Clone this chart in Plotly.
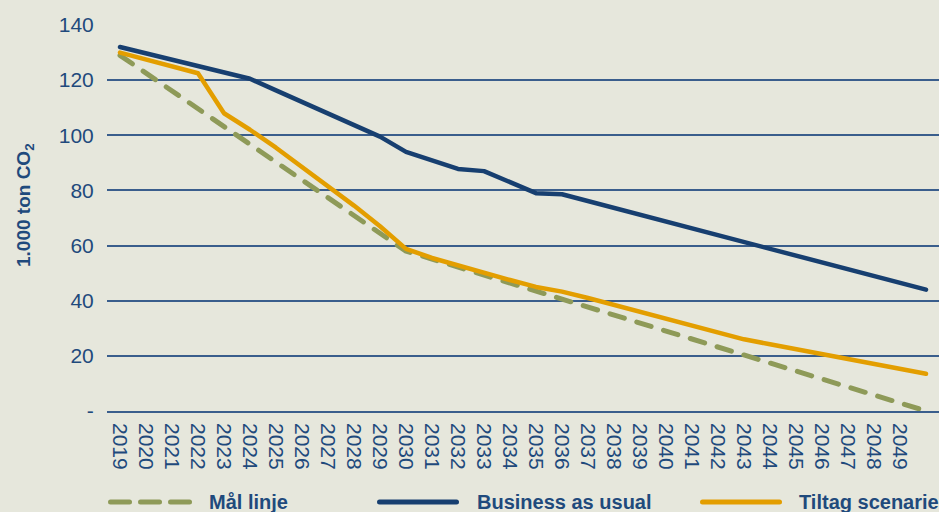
import plotly.graph_objects as go

years = [str(y) for y in range(2019, 2051)]

maal_linje = [129.0, 122.5, 116.0, 109.6, 103.2, 96.7, 90.3, 83.8, 77.4, 70.9,
              64.5, 58.0, 55.1, 52.2, 49.3, 46.4, 43.5, 40.6, 37.7, 34.8,
              31.9, 29.0, 26.1, 23.2, 20.3, 17.4, 14.5, 11.6, 8.7, 5.8, 2.9, 0.0]

business_as_usual = [132.0, 129.7, 127.4, 125.1, 122.8, 120.5, 116.3, 112.2, 108.0, 103.8,
                     99.5, 94.0, 90.7, 87.8, 87.0, 83.0, 79.0, 78.6, 76.1, 73.6,
                     71.2, 68.7, 66.2, 63.8, 61.3, 58.8, 56.3, 53.9, 51.4, 48.9, 46.5, 44.0]

tiltag_scenarie = [130.0, 127.5, 125.0, 122.5, 108.0, 102.0, 95.5, 88.5, 81.8, 74.5,
                   67.0, 58.8, 55.5, 52.7, 50.0, 47.5, 45.0, 43.3, 41.0, 38.5,
                   36.0, 33.5, 31.0, 28.5, 26.0, 24.2, 22.4, 20.6, 18.8, 17.0, 15.2, 13.5]

series_names = ["Mål linje", "Business as usual", "Tiltag scenarie"]
y_tickvals = [0, 20, 40, 60, 80, 100, 120, 140]
y_ticktext = ["-", "20", "40", "60", "80", "100", "120", "140"]
x_ticklabels = years[:-1]

BG = "#E6E7DC"
BLUE = "#173F70"
ORANGE = "#E39E00"
GREEN = "#8E9A58"
TEXT = "#1F4A7C"
GRID = "#3A5E8C"

fig = go.Figure()
fig.add_trace(go.Scatter(x=years, y=maal_linje, mode="lines", name=series_names[0],
                         line=dict(color=GREEN, width=5, dash="15px,13px"), showlegend=False))
fig.add_trace(go.Scatter(x=years, y=business_as_usual, mode="lines", name=series_names[1],
                         line=dict(color=BLUE, width=4.5), showlegend=False))
fig.add_trace(go.Scatter(x=years, y=tiltag_scenarie, mode="lines", name=series_names[2],
                         line=dict(color=ORANGE, width=4.5), showlegend=False))

# Manual legend (keys drawn in paper coordinates below the plot)
legend_specs = [
    (series_names[0], GREEN, "dash", 108, 192, 207),
    (series_names[1], BLUE, "solid", 377, 459, 475),
    (series_names[2], ORANGE, "solid", 700, 782, 797),
]
PL, PW = 107, 832
PT, PH = 25, 386
def px_x(px):
    return (px - PL) / PW
def px_y(py):
    return (PT + PH - py) / PH

shapes = []
annotations = []
for name, col, style, x0, x1, xt in legend_specs:
    yy = px_y(502)
    if style == "dash":
        for i in range(3):
            a = x0 + 2.5 + i * 30
            shapes.append(dict(type="line", xref="paper", yref="paper",
                               x0=px_x(a), x1=px_x(a + 19), y0=yy, y1=yy,
                               line=dict(color=col, width=5)))
    else:
        shapes.append(dict(type="line", xref="paper", yref="paper",
                           x0=px_x(x0 + 2.5), x1=px_x(x1 - 2.5), y0=yy, y1=yy,
                           line=dict(color=col, width=5)))
    annotations.append(dict(text=f"<b>{name}</b>", xref="paper", yref="paper",
                            x=px_x(xt), y=yy, xanchor="left", yanchor="middle",
                            showarrow=False,
                            font=dict(family="Liberation Sans Narrow, Liberation Sans, Arial", size=20, color=TEXT)))

annotations.append(dict(text="<b>1.000 ton CO<sub>2</sub></b>", xref="paper", yref="paper",
                        x=px_x(25), y=px_y(205), xanchor="center", yanchor="middle",
                        textangle=-90, showarrow=False,
                        font=dict(family="Liberation Sans, Arial", size=19, color=TEXT)))

fig.update_layout(
    width=939, height=512,
    margin=dict(l=PL, r=0, t=PT, b=512 - PT - PH),
    paper_bgcolor=BG, plot_bgcolor=BG,
    showlegend=False,
    shapes=shapes,
    annotations=annotations,
    font=dict(family="Liberation Sans, Arial", color=TEXT),
)
fig.update_xaxes(
    type="category", range=[-0.5, 31.5],
    tickmode="array", tickvals=x_ticklabels, ticktext=x_ticklabels,
    tickangle=90, tickfont=dict(size=21, color=TEXT),
    showgrid=False, showline=True, linecolor=GRID, linewidth=1.5,
    ticks="outside", ticklen=6, tickcolor=BG,
)
fig.update_yaxes(
    range=[0, 140], tickmode="array", tickvals=y_tickvals, ticktext=y_ticktext,
    tickfont=dict(size=21, color=TEXT),
    showgrid=True, gridcolor=GRID, gridwidth=1.5,
    zeroline=True, zerolinecolor=GRID, zerolinewidth=1.5,
    showline=False, ticks="outside", ticklen=8, tickcolor=BG,
)

post = (
    "document.body.style.margin='0px';document.body.style.overflow='hidden';"
    "document.querySelectorAll('.scatterlayer path.js-line, .shapelayer path')"
    ".forEach(function(p){p.style.strokeLinecap='round';p.style.strokeLinejoin='round';});"
)

fig.write_html("out.html", config={"displayModeBar": False}, post_script=post)
